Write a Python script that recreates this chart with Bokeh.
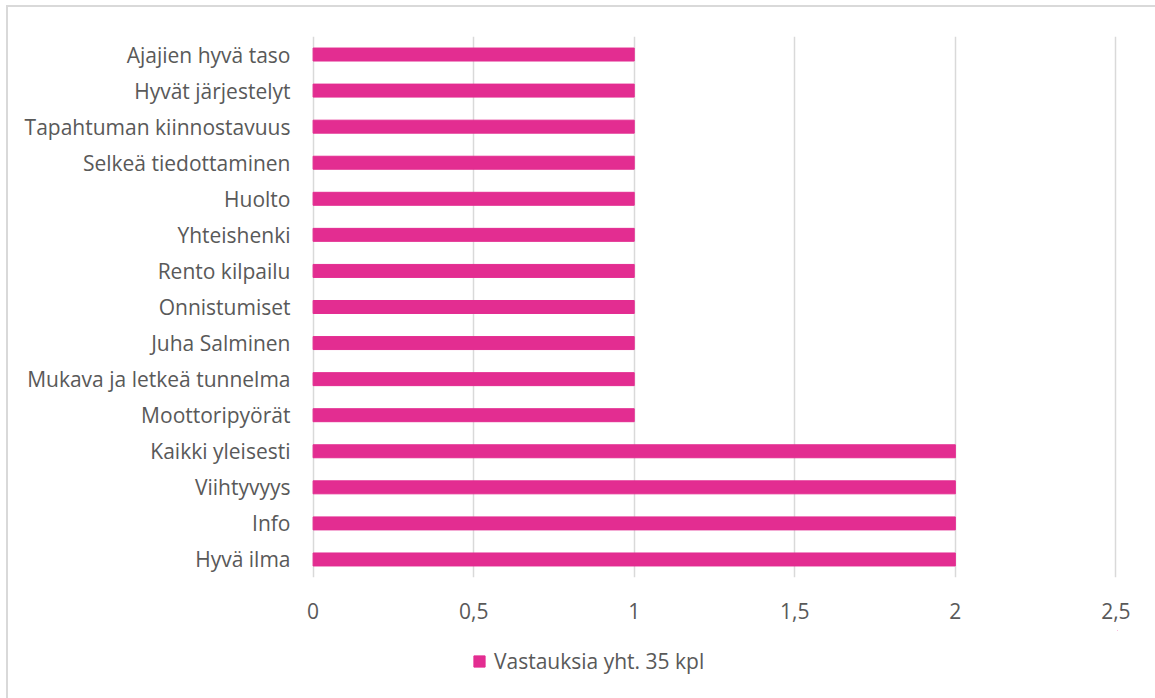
from bokeh.plotting import figure
from bokeh.layouts import column
from bokeh.models import (FactorRange, Range1d, FixedTicker, Legend, LegendItem,
                          ColumnDataSource)
from bokeh.embed import file_html
from bokeh.resources import INLINE

categories = ["Hyvä ilma", "Info", "Viihtyvyys", "Kaikki yleisesti", "Moottoripyörät",
              "Mukava ja letkeä tunnelma", "Juha Salminen", "Onnistumiset", "Rento kilpailu",
              "Yhteishenki", "Huolto", "Selkeä tiedottaminen", "Tapahtuman kiinnostavuus",
              "Hyvät järjestelyt", "Ajajien hyvä taso"]
values = [2, 2, 2, 2, 1, 1, 1, 1, 1, 1, 1, 1, 1, 1, 1]
series_name = "Vastauksia yht. 35 kpl"
x_ticks = [0, 0.5, 1, 1.5, 2, 2.5]
x_tick_labels = ["0", "0,5", "1", "1,5", "2", "2,5"]

BAR = "#E32D91"
TXT = "#595959"
GRID = "#d9d9d9"
FONT = "Open Sans"
FS = "21px"

src = ColumnDataSource(dict(cat=categories, val=values))

OX, OY = 8, 7  # offset of the content inside the window (margin + border)
SPLIT = 630    # window y where the legend strip starts
FRAME_LEFT = 311

p = figure(width=1155 - OX, height=SPLIT - OY, output_backend="svg", toolbar_location=None,
           y_range=FactorRange(*categories, range_padding=0),
           x_range=Range1d(-0.005, 2.505),
           min_border_left=FRAME_LEFT - OX, min_border_right=38, min_border_top=36 - OY,
           min_border_bottom=SPLIT - 577)
p.outline_line_color = None
p.background_fill_color = "white"
p.border_fill_color = "white"

r = p.hbar(y="cat", right="val", left=0, height=0.36, color=BAR, source=src)

p.xaxis.ticker = FixedTicker(ticks=x_ticks)
p.xaxis.major_label_overrides = {t: l for t, l in zip(x_ticks, x_tick_labels)}
for ax in (p.xaxis, p.yaxis):
    ax.axis_line_color = None
    ax.major_tick_line_color = None
    ax.minor_tick_line_color = None
    ax.major_label_text_color = TXT
    ax.major_label_text_font = FONT
    ax.major_label_text_font_size = FS
p.xaxis.major_label_standoff = 19
p.yaxis.major_label_standoff = 15
p.ygrid.grid_line_color = None
p.xgrid.grid_line_color = GRID
p.xgrid.grid_line_width = 1.5

# legend strip (its frame is aligned with the main frame by the column layout)
p2 = figure(width=1155 - OX, height=698 - SPLIT, output_backend="svg", toolbar_location=None,
            x_range=Range1d(0, 1), y_range=Range1d(0, 1),
            min_border_left=0, min_border_right=0,
            min_border_top=0, min_border_bottom=0)
p2.axis.visible = False
p2.grid.visible = False
p2.outline_line_color = None
p2.border_fill_color = "white"
# swatch-only renderer, placed far outside the visible ranges
r2 = p2.hbar(y=[50], right=[11], left=[10], height=0.5, color=BAR)
legend = Legend(items=[LegendItem(label=series_name, renderers=[r2])],
                orientation="horizontal", location=(472 - FRAME_LEFT, 698 - 675),
                label_text_font=FONT, label_text_font_size=FS,
                label_text_color=TXT, glyph_width=14, glyph_height=14,
                border_line_color=None, background_fill_alpha=0,
                margin=0, padding=0, label_standoff=8)
p2.add_layout(legend, "center")

layout = column(p, p2, spacing=0)
layout.margin = (5, 0, 0, 6)
layout.styles = {"border-left": "2px solid #d9d9d9", "border-top": "2px solid #d9d9d9"}

open("out.html", "w").write(file_html(layout, INLINE))
